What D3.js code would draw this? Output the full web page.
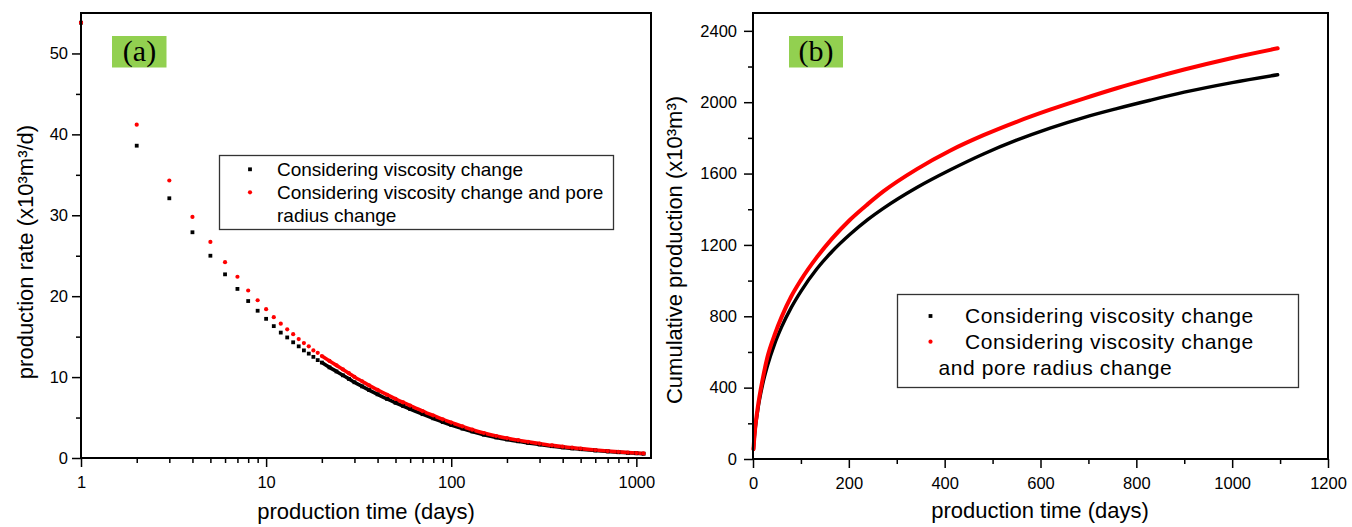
<!DOCTYPE html>
<html>
<head>
<meta charset="utf-8">
<script src="https://cdn.jsdelivr.net/npm/d3@7"></script>
<style>
  html, body { margin: 0; padding: 0; background: #fff; }
  svg { display: block; }
  text { font-family: "Liberation Sans", Arial, sans-serif; fill: #000; }
  text.serif { font-family: "Liberation Serif", "Times New Roman", serif; }
</style>
</head>
<body>
<svg id="chart" width="1352" height="527"></svg>
<script>
// ---------------- DATA ----------------
// Panel (a): production rate (x10^3 m^3/d) vs production time (days), log x
const rateDays = [1,2,3,4,5,6,7,8,9,10,11,12,13,14,15,16,17,18,19,20,22,24,26,28,30,33,36,40,45,50,55,60,70,80,90,100,115,130,150,175,200,230,260,300,350,400,450,500,600,700,800,900,1000,1095];
const rateViscosity = [53.8,38.6,32.1,27.9,25.0,22.7,20.9,19.4,18.2,17.2,16.3,15.5,14.9,14.3,13.8,13.3,12.9,12.5,12.1,11.8,11.2,10.7,10.22,9.78,9.36,8.85,8.4,7.87,7.3,6.83,6.42,6.05,5.42,4.9,4.45,4.08,3.63,3.27,2.88,2.54,2.29,2.06,1.87,1.67,1.46,1.31,1.19,1.09,0.93,0.81,0.71,0.64,0.58,0.53];
const rateViscosityPore = [53.8,41.2,34.3,29.8,26.7,24.2,22.4,20.7,19.5,18.4,17.4,16.6,15.9,15.3,14.7,14.2,13.8,13.3,13.0,12.6,12.0,11.45,10.95,10.48,10.02,9.48,8.98,8.42,7.82,7.31,6.87,6.48,5.8,5.25,4.78,4.38,3.9,3.5,3.09,2.72,2.45,2.2,2.0,1.78,1.56,1.4,1.27,1.16,0.99,0.86,0.76,0.68,0.61,0.56];

// Panel (b): cumulative production (x10^3 m^3) vs production time (days)
const cumDays = [1,2,3,5,10,20,30,45,60,80,100,133,165,202,240,272,342,411,481,550,620,690,759,829,900,1000,1095];
const cumViscosity = [54,92,124,177,275,417,521,644,742,850,940,1065,1163,1258,1343,1405,1522,1620,1710,1787,1855,1914,1964,2011,2056,2110,2154];
const cumViscosityPore = [54,95,129,185,290,445,570,695,798,912,1003,1130,1235,1340,1430,1500,1625,1728,1815,1890,1958,2020,2078,2132,2183,2248,2302];

// Tick values
const aXTicks = [1, 10, 100, 1000];
const aYTicks = [0, 10, 20, 30, 40, 50];
const aYMinor = [5, 15, 25, 35, 45];
const bXTicks = [0, 200, 400, 600, 800, 1000, 1200];
const bXMinor = [100, 300, 500, 700, 900, 1100];
const bYTicks = [0, 400, 800, 1200, 1600, 2000, 2400];
const bYMinor = [200, 600, 1000, 1400, 1800, 2200];

const seriesNames = ["Considering viscosity change", "Considering viscosity change and pore radius change"];
const colors = ["#000000", "#ff0000"];
const green = "#92d050";

// ---------------- DRAW ----------------
const svg = d3.select("#chart");
svg.append("rect").attr("width", 1352).attr("height", 527).attr("fill", "#fff");

function styleAxis(g) {
  g.select(".domain").remove();
  g.selectAll(".tick line").attr("stroke", "#000").attr("stroke-width", 1.5);
  g.selectAll(".tick text").style("font-size", "16.5px").attr("fill", "#000")
    .style("font-family", '"Liberation Sans", Arial, sans-serif');
}

// ===== Panel (a) =====
const A = {l: 81, r: 651, t: 13, b: 458};
const xa = d3.scaleLog().domain([1, 1200]).range([A.l, A.r]);
const ya = d3.scaleLinear().domain([0, 55]).range([A.b, A.t]);

const ga = svg.append("g");
const aXMinor = xa.ticks().filter(v => !aXTicks.includes(v));
ga.append("g").attr("transform", `translate(0,${A.b})`)
  .call(d3.axisBottom(xa).tickValues(aXMinor).tickSize(5).tickFormat(""))
  .call(styleAxis);
ga.append("g").attr("transform", `translate(0,${A.b})`)
  .call(d3.axisBottom(xa).tickValues(aXTicks).tickSize(9).tickPadding(9).tickFormat(d3.format("d")))
  .call(styleAxis);
ga.append("g").attr("transform", `translate(${A.l},0)`)
  .call(d3.axisLeft(ya).tickValues(aYMinor).tickSize(5).tickFormat(""))
  .call(styleAxis);
ga.append("g").attr("transform", `translate(${A.l},0)`)
  .call(d3.axisLeft(ya).tickValues(aYTicks).tickSize(9).tickPadding(4))
  .call(styleAxis);

// dense trails (overlapping markers) for later days
const trailStart = 20;
const rateSeries = [rateViscosity, rateViscosityPore];
rateSeries.forEach((vals, si) => {
  const pts = rateDays.map((d, i) => [d, vals[i]]).filter(p => p[0] >= trailStart);
  ga.append("path")
    .attr("d", d3.line().curve(d3.curveMonotoneX).x(p => xa(p[0])).y(p => ya(p[1]))(pts))
    .attr("fill", "none").attr("stroke", colors[si]).attr("stroke-width", 3.6)
    .attr("stroke-linejoin", "round");
});
// markers
ga.append("g").selectAll("rect").data(rateDays.map((d, i) => [d, rateViscosity[i]]))
  .join("rect")
  .attr("x", p => xa(p[0]) - 1.9).attr("y", p => ya(p[1]) - 1.9)
  .attr("width", 3.8).attr("height", 3.8).attr("fill", colors[0]);
ga.append("g").selectAll("circle").data(rateDays.map((d, i) => [d, rateViscosityPore[i]]))
  .join("circle")
  .attr("cx", p => xa(p[0])).attr("cy", p => ya(p[1])).attr("r", 2.1).attr("fill", colors[1]);

// frame
ga.append("rect").attr("x", A.l).attr("y", A.t).attr("width", A.r - A.l).attr("height", A.b - A.t)
  .attr("fill", "none").attr("stroke", "#000").attr("stroke-width", 2);

// (a) label
ga.append("rect").attr("x", 112).attr("y", 36).attr("width", 54.5).attr("height", 31.5).attr("fill", green);
ga.append("text").attr("class", "serif").attr("x", 139.5).attr("y", 61).attr("text-anchor", "middle")
  .style("font-size", "30px").text("(a)");

// legend (a)
ga.append("rect").attr("x", 219.5).attr("y", 155.5).attr("width", 394).attr("height", 74)
  .attr("fill", "#fff").attr("stroke", "#333").attr("stroke-width", 1.3);
ga.append("rect").attr("x", 248.1).attr("y", 167.4).attr("width", 3.8).attr("height", 3.8).attr("fill", colors[0]);
ga.append("circle").attr("cx", 250).attr("cy", 192.3).attr("r", 2.1).attr("fill", colors[1]);
const legA = [[seriesNames[0], 175.5], ["Considering viscosity change and pore", 198.5], ["radius change", 221.5]];
legA.forEach(([t, y]) => {
  ga.append("text").attr("x", 277).attr("y", y).style("font-size", "19px").text(t);
});

// axis titles (a)
ga.append("text").attr("x", 366).attr("y", 519).attr("text-anchor", "middle")
  .style("font-size", "22px").text("production time (days)");
ga.append("text").attr("transform", "translate(33,252) rotate(-90)").attr("text-anchor", "middle")
  .style("font-size", "22px").text("production rate (x10³m³/d)");

// ===== Panel (b) =====
const B = {l: 753, r: 1328, t: 13, b: 459};
const xb = d3.scaleLinear().domain([0, 1200]).range([B.l, B.r]);
const yb = d3.scaleLinear().domain([0, 2500]).range([B.b, B.t]);
const gb = svg.append("g");

gb.append("g").attr("transform", `translate(0,${B.b})`)
  .call(d3.axisBottom(xb).tickValues(bXMinor).tickSize(5).tickFormat(""))
  .call(styleAxis);
gb.append("g").attr("transform", `translate(0,${B.b})`)
  .call(d3.axisBottom(xb).tickValues(bXTicks).tickSize(9).tickPadding(9).tickFormat(d3.format("d")))
  .call(styleAxis);
gb.append("g").attr("transform", `translate(${B.l},0)`)
  .call(d3.axisLeft(yb).tickValues(bYMinor).tickSize(5).tickFormat(""))
  .call(styleAxis);
gb.append("g").attr("transform", `translate(${B.l},0)`)
  .call(d3.axisLeft(yb).tickValues(bYTicks).tickSize(9).tickPadding(7).tickFormat(d3.format("d")))
  .call(styleAxis);

const cumSeries = [cumViscosity, cumViscosityPore];
const widths = [3.4, 4];
cumSeries.forEach((vals, si) => {
  const pts = cumDays.map((d, i) => [d, vals[i]]);
  gb.append("path")
    .attr("d", d3.line().curve(d3.curveMonotoneX).x(p => xb(p[0])).y(p => yb(p[1]))(pts))
    .attr("fill", "none").attr("stroke", colors[si]).attr("stroke-width", widths[si])
    .attr("stroke-linecap", "round").attr("stroke-linejoin", "round");
});

gb.append("rect").attr("x", B.l).attr("y", B.t).attr("width", B.r - B.l).attr("height", B.b - B.t)
  .attr("fill", "none").attr("stroke", "#000").attr("stroke-width", 2);

// (b) label
gb.append("rect").attr("x", 789).attr("y", 36).attr("width", 54).attr("height", 31.5).attr("fill", green);
gb.append("text").attr("class", "serif").attr("x", 816).attr("y", 61).attr("text-anchor", "middle")
  .style("font-size", "30px").text("(b)");

// legend (b)
gb.append("rect").attr("x", 897.5).attr("y", 294.5).attr("width", 401).attr("height", 93)
  .attr("fill", "#fff").attr("stroke", "#333").attr("stroke-width", 1.3);
gb.append("rect").attr("x", 928.6).attr("y", 314.1).attr("width", 3.8).attr("height", 3.8).attr("fill", colors[0]);
gb.append("circle").attr("cx", 930.5).attr("cy", 341.7).attr("r", 2.1).attr("fill", colors[1]);
const legB = [[seriesNames[0], 965, 323], ["Considering viscosity change", 965, 348.5], ["and pore radius change", 938.5, 374.5]];
legB.forEach(([t, x, y]) => {
  gb.append("text").attr("x", x).attr("y", y).style("font-size", "21px").style("letter-spacing", "0.6px").text(t);
});

gb.append("text").attr("x", 1040).attr("y", 518).attr("text-anchor", "middle")
  .style("font-size", "22px").text("production time (days)");
gb.append("text").attr("transform", "translate(682,250) rotate(-90)").attr("text-anchor", "middle")
  .style("font-size", "22px").text("Cumulative production (x10³m³)");
</script>
</body>
</html>
